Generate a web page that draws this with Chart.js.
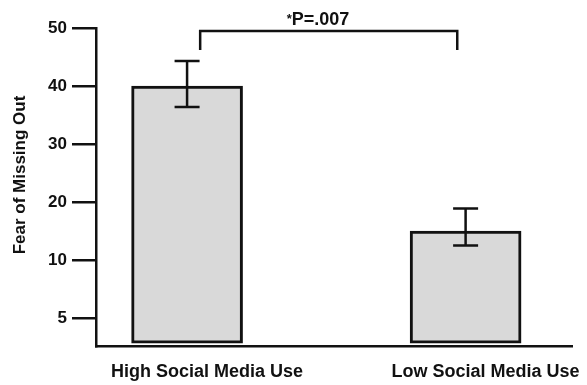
<!DOCTYPE html>
<html>
<head>
<meta charset="utf-8">
<script src="https://cdn.jsdelivr.net/npm/chart.js@4/dist/chart.umd.min.js"></script>
<style>
  html, body { margin: 0; padding: 0; background: #fff; }
  #wrap { width: 587px; height: 385px; }
</style>
</head>
<body>
<div id="wrap"><canvas id="c" width="587" height="385"></canvas></div>
<script>
// Group names and their mean scores
const categories = ["High Social Media Use", "Low Social Media Use"];
const means = [40, 15];
// Error bar ends (lower, upper)
const errLow = [36.4, 12.5];
const errHigh = [44.3, 18.9];
// Value-axis ticks and how each is labelled
const tickValues = [0, 10, 20, 30, 40, 50];
const tickLabels = ["5", "10", "20", "30", "40", "50"];
// Significance bracket: span along the group axis, heights in score units, label spot
const sigMark = "*";
const sigText = "P=.007";
const sigSpan = [0.047, 0.97];
const sigLevels = [49.5, 46.2];
const sigLabelAt = 0.47;

const FONT = "'Liberation Sans', Arial, Helvetica, sans-serif";
const INK = "#111";

const annotations = {
  id: "annotations",
  afterDatasetsDraw(chart) {
    const { ctx, scales: { x, y } } = chart;
    ctx.save();
    ctx.strokeStyle = INK;
    ctx.lineWidth = 2.5;
    ctx.lineCap = "butt";
    // error bars
    means.forEach((m, i) => {
      const px = x.getPixelForValue(i);
      const top = y.getPixelForValue(errHigh[i]);
      const bot = y.getPixelForValue(errLow[i]);
      const cap = 12.5;
      ctx.beginPath();
      ctx.moveTo(px, top); ctx.lineTo(px, bot);
      ctx.moveTo(px - cap, top); ctx.lineTo(px + cap, top);
      ctx.moveTo(px - cap, bot); ctx.lineTo(px + cap, bot);
      ctx.stroke();
    });
    // significance bracket
    const x0 = x.getPixelForValue(sigSpan[0]);
    const x1 = x.getPixelForValue(sigSpan[1]);
    const yTop = y.getPixelForValue(sigLevels[0]);
    const yDrop = y.getPixelForValue(sigLevels[1]);
    ctx.beginPath();
    ctx.moveTo(x0, yDrop); ctx.lineTo(x0, yTop); ctx.lineTo(x1, yTop); ctx.lineTo(x1, yDrop);
    ctx.stroke();
    // bracket label: small raised asterisk followed by the P value
    ctx.fillStyle = INK;
    ctx.textBaseline = "alphabetic";
    ctx.font = "bold 18px " + FONT;
    const wMain = ctx.measureText(sigText).width;
    ctx.font = "bold 13px " + FONT;
    const wMark = ctx.measureText(sigMark).width;
    const start = x.getPixelForValue(sigLabelAt) - (wMain + wMark) / 2;
    const base = yTop - 6;
    ctx.textAlign = "left";
    ctx.fillText(sigMark, start, base - 2);
    ctx.font = "bold 18px " + FONT;
    ctx.fillText(sigText, start + wMark, base);
    // value-axis title
    ctx.save();
    ctx.translate(20, (y.top + y.bottom) / 2 - 12);
    ctx.rotate(-Math.PI / 2);
    ctx.textAlign = "center";
    ctx.textBaseline = "middle";
    ctx.font = "bold 17px " + FONT;
    ctx.fillText("Fear of Missing Out", 0, 0);
    ctx.restore();
    ctx.restore();
  }
};

const yMin = -4.8, yMax = 50;

new Chart(document.getElementById("c"), {
  type: "bar",
  data: {
    datasets: [{
      data: means.map((v, i) => ({ x: i, y: v })),
      base: -4.3,
      backgroundColor: "#d9d9d9",
      borderColor: INK,
      borderWidth: 3,
      borderSkipped: false,
      barThickness: 111
    }]
  },
  options: {
    responsive: false,
    animation: false,
    layout: { padding: { top: 28, right: 15, bottom: 0, left: 0 } },
    plugins: { legend: { display: false }, tooltip: { enabled: false } },
    scales: {
      x: {
        type: "linear",
        offset: false,
        min: -0.327,
        max: 1.382,
        afterBuildTicks(scale) { scale.ticks = categories.map((_, i) => ({ value: i })); },
        afterFit(scale) { scale.height = 39; },
        grid: { display: true, offset: false, drawOnChartArea: false, drawTicks: false, color: "rgba(0,0,0,0)" },
        border: { display: true, color: INK, width: 2.5 },
        ticks: {
          callback: (v) => categories[v] ?? "",
          color: INK,
          font: { family: FONT, size: 18, weight: "bold" },
          padding: 15,
          labelOffset: 20,
          maxRotation: 0,
          autoSkip: false
        }
      },
      y: {
        min: yMin,
        max: yMax,
        afterBuildTicks(scale) { scale.ticks = tickValues.map(v => ({ value: v })); },
        afterFit(scale) { scale.width = 96; },
        grid: { display: true, drawOnChartArea: false, drawTicks: true, tickLength: 24, color: INK, lineWidth: 2.5 },
        border: { display: true, color: INK, width: 2.5 },
        ticks: {
          callback: (v) => tickLabels[tickValues.indexOf(v)] ?? "",
          color: INK,
          font: { family: FONT, size: 17, weight: "bold" },
          padding: 5
        }
      }
    }
  },
  plugins: [annotations]
});
</script>
</body>
</html>
